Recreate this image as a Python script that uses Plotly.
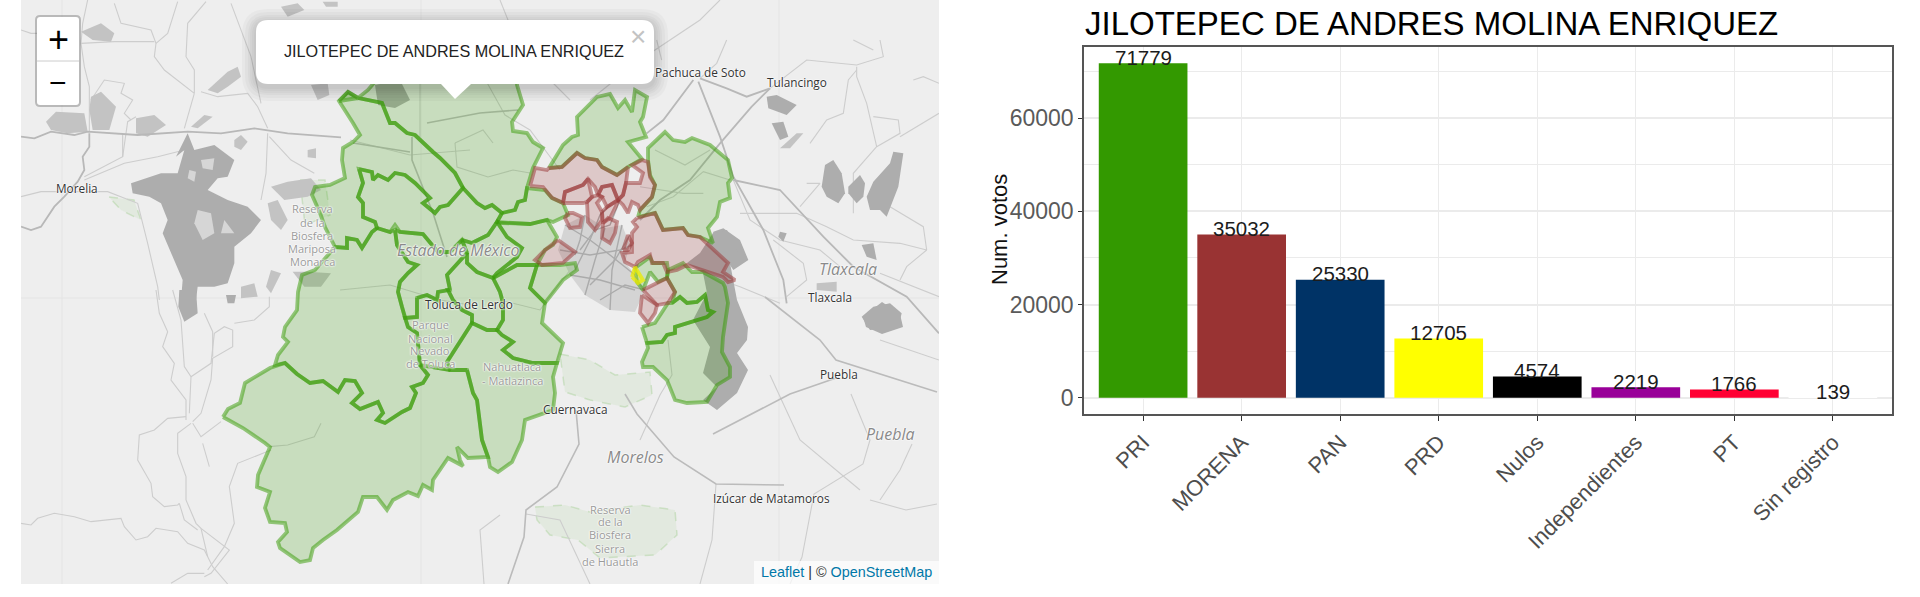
import plotly.graph_objects as go

# ---------- bar data ----------
parties = ["PRI", "MORENA", "PAN", "PRD", "Nulos", "Independientes", "PT", "Sin registro"]
votes = [71779, 35032, 25330, 12705, 4574, 2219, 1766, 139]
party_colors = ["#339900", "#993333", "#003366", "#FFFF00", "#000000", "#990099", "#FF0033", "#FFFFFF"]
chart_title = "JILOTEPEC DE ANDRES MOLINA ENRIQUEZ"
y_title = "Num. votos"

# ---------- map data (map-plane coordinates) ----------
north = [(339,101),(348,92),(358,98),(368,90),(385,70),(517,70),(517,85),(523,105),(512,122),(513,131),(527,133),(533,142),(543,148),(533,168),(527,188),(525,200),(518,202),(515,210),(502,213),(492,205),(485,208),(477,203),(463,188),(455,173),(440,158),(433,152),(415,135),(407,133),(395,123),(390,123),(382,103),(358,98)]
northwest = [(358,98),(382,103),(390,123),(395,123),(407,133),(415,135),(433,152),(440,158),(455,173),(463,188),(448,205),(440,207),(435,213),(423,203),(430,198),(415,183),(405,175),(395,173),(388,180),(378,175),(373,180),(372,172),(359,169),(363,183),(358,197),(363,203),(363,217),(375,222),(377,228),(372,232),(362,248),(357,240),(347,238),(347,248),(335,247),(325,227),(320,213),(312,195),(315,187),(330,185),(345,178),(342,160),(343,148),(353,142),(360,135),(353,123),(339,101),(348,92),(358,98)]
inner_north = [(359,169),(372,172),(373,180),(378,175),(388,180),(395,173),(405,175),(415,183),(430,198),(423,203),(435,213),(440,207),(448,205),(463,188),(477,203),(485,208),(492,205),(502,213),(497,222),(488,235),(472,243),(462,240),(450,252),(438,252),(423,234),(400,232),(395,225),(390,232),(377,228),(375,222),(363,217),(363,203),(358,197),(363,183),(359,169)]
center_east = [(502,213),(515,210),(518,202),(525,200),(527,188),(545,190),(552,198),(563,203),(568,215),(553,222),(547,220),(530,224),(502,223),(497,222),(502,213)]
center_low = [(497,222),(530,224),(547,220),(557,237),(553,245),(545,250),(537,265),(517,265),(493,278),(497,273),(517,257),(522,248),(507,237),(497,222)]
west = [(377,228),(372,232),(362,248),(357,240),(347,238),(347,248),(335,247),(315,270),(302,275),(298,292),(297,310),(285,327),(283,337),(288,342),(278,355),(275,365),(285,363),(297,374),(310,383),(323,381),(338,392),(345,380),(355,381),(362,393),(352,403),(360,409),(378,402),(383,413),(377,420),(385,423),(402,412),(410,408),(416,393),(412,387),(423,383),(428,375),(420,365),(418,343),(417,333),(408,327),(405,318),(402,307),(398,292),(400,282),(408,273),(417,265),(408,262),(397,245),(395,230),(390,232),(377,228)]
southwest = [(223,417),(228,409),(240,403),(245,383),(270,368),(285,363),(297,374),(310,383),(323,381),(338,392),(345,380),(355,381),(362,393),(352,403),(360,409),(378,402),(383,413),(377,420),(385,423),(402,412),(410,408),(416,393),(412,387),(423,383),(428,375),(420,365),(450,370),(467,370),(473,393),(477,400),(482,440),(488,457),(468,458),(457,447),(460,460),(463,466),(448,458),(433,480),(432,490),(423,485),(418,496),(408,492),(393,500),(387,510),(377,497),(363,497),(358,512),(337,530),(323,540),(313,548),(310,560),(300,562),(280,548),(278,542),(287,532),(285,523),(270,522),(265,508),(270,492),(257,487),(258,475),(270,447),(265,443),(243,428),(223,417)]
south = [(467,370),(473,393),(477,400),(482,440),(488,457),(490,467),(498,472),(512,462),(522,440),(525,420),(553,410),(555,393),(553,377),(557,363),(533,363),(513,358),(503,350),(513,342),(502,335),(497,330),(487,330),(472,323),(447,362),(450,370),(467,370)]
zinacantepec = [(395,230),(400,232),(423,234),(438,252),(450,252),(462,240),(467,253),(447,275),(450,290),(438,292),(437,300),(427,295),(417,298),(417,317),(405,318),(402,307),(398,292),(400,282),(408,273),(417,265),(408,262),(397,245),(395,230)]
lerma = [(467,253),(462,240),(472,243),(488,235),(497,222),(507,237),(522,248),(517,257),(497,273),(493,278),(477,272),(467,263),(467,253)]
toluca = [(450,290),(447,275),(467,253),(467,263),(477,272),(493,278),(500,292),(503,303),(503,320),(497,330),(487,330),(472,323),(472,315),(462,310),(453,300),(448,290)]
tenango = [(417,298),(427,295),(437,300),(438,292),(448,290),(453,300),(462,310),(472,315),(472,323),(447,362),(450,370),(420,365),(418,343),(417,333),(408,327),(405,318),(417,317),(417,298)]
huixquilucan = [(493,278),(517,265),(537,265),(530,288),(545,303),(542,323),(563,343),(557,363),(533,363),(513,358),(503,350),(513,342),(502,335),(497,330),(503,320),(503,303),(500,292),(493,278)]
ring_light = [(537,265),(560,265),(575,263),(577,270),(563,280),(555,290),(545,303),(530,288),(537,265)]
northeast_a = [(549,168),(563,145),(572,137),(578,135),(577,117),(597,97),(610,94),(618,108),(625,100),(632,112),(635,90),(647,97),(643,117),(640,122),(646,137),(628,142),(642,159),(628,167),(617,175),(602,167),(597,160),(585,158),(577,153),(562,167),(549,168)]
northeast_b = [(638,217),(640,210),(652,197),(655,185),(650,175),(648,160),(648,148),(657,140),(665,132),(673,140),(685,142),(692,138),(710,145),(728,160),(732,178),(728,183),(730,198),(720,202),(717,217),(708,228),(713,243),(700,237),(688,235),(683,228),(663,230),(655,213),(638,217)]
southeast_main = [(668,270),(683,263),(692,272),(703,272),(723,283),(725,287),(728,303),(723,337),(722,352),(730,367),(730,377),(717,385),(707,402),(687,403),(675,400),(667,380),(653,367),(643,367),(642,362),(648,348),(647,343),(662,342),(667,335),(675,333),(675,327),(687,323),(707,317),(713,312),(708,310),(705,295),(697,302),(687,303),(680,297),(672,303),(675,292),(667,278),(668,270)]
southeast_thin = [(642,327),(655,323),(668,303),(672,303),(680,297),(687,303),(697,302),(705,295),(708,310),(713,312),(707,317),(687,323),(675,327),(675,333),(667,335),(662,342),(647,343),(642,327)]
small_green = [(635,268),(650,257),(653,263),(667,263),(668,270),(667,278),(658,282),(650,272),(645,285),(643,290),(637,282),(635,268)]
green_districts = [north, northwest, inner_north, center_east, center_low, west, southwest, south, zinacantepec, lerma, toluca, tenango, huixquilucan, ring_light, northeast_a, northeast_b, southeast_main, southeast_thin, small_green]

red_north = [(530,186),(535,168),(547,170),(549,168),(562,167),(577,153),(585,158),(597,160),(602,167),(617,175),(628,167),(626,183),(623,195),(618,200),(612,185),(602,187),(598,195),(595,187),(588,179),(583,185),(565,192),(563,203),(552,198),(543,187),(530,186)]
red_a = [(563,203),(583,203),(587,202),(592,197),(588,179),(583,185),(565,192),(563,203)]
red_b = [(568,213),(573,213),(582,217),(580,227),(570,228),(565,218),(568,213)]
red_c = [(587,202),(592,197),(598,195),(602,197),(597,203),(602,212),(602,220),(595,230),(588,222),(587,202)]
red_d = [(598,195),(602,187),(612,185),(618,200),(607,207),(602,197),(598,195)]
red_e = [(602,212),(607,207),(618,200),(616,206),(610,218),(603,223),(602,212)]
red_f = [(603,223),(608,218),(617,222),(615,233),(610,243),(602,238),(603,223)]
red_g = [(618,200),(623,195),(626,183),(640,183),(643,173),(632,165),(642,160),(648,162),(650,177),(655,185),(652,197),(640,210),(638,205),(632,202),(628,213),(623,205),(618,200)]
red_triangle = [(558,240),(575,252),(563,263),(542,265),(535,260),(545,250),(558,240)]
red_sliver = [(623,250),(628,235),(632,243),(628,250),(623,250)]
red_east = [(637,218),(655,213),(663,230),(683,228),(688,235),(700,237),(728,263),(723,272),(735,280),(728,282),(723,277),(707,272),(687,265),(677,270),(667,272),(663,263),(652,263),(650,255),(638,262),(635,267),(625,262),(622,253),(632,252),(632,233),(637,227),(633,222),(637,218)]
red_low_a = [(642,295),(657,305),(655,313),(648,323),(640,313),(642,295)]
red_low_b = [(643,290),(667,278),(675,292),(668,303),(657,305),(643,290)]
red_districts = [red_north, red_a, red_b, red_c, red_d, red_e, red_f, red_g, red_triangle, red_sliver, red_east, red_low_a, red_low_b]

yellow_district = [(632,277),(635,267),(643,280),(638,283),(632,277)]

LEFT = (21, 0)
RIGHT = (640, 40)
LOW = (21, 290)

city_dark = [
    (LEFT, [[(500,400),(520,450),(580,435),(640,480),(620,530),(590,535),(560,570),(620,600),(680,620),(720,660),(690,700),(640,740),(640,790),(620,850),(580,860),(530,860),(525,900),(480,900),(485,840),(450,760),(425,700),(440,660),(420,610),(385,590),(335,580),(330,550),(420,520),(470,520),(490,450),(465,470)]]),
    (LOW, [[(475,0),(525,0),(530,70),(490,95),(472,50)], [(615,15),(645,15),(640,40),(620,40)]]),
    (RIGHT, [[(380,170),(410,165),(470,195),(440,225),(385,205)], [(395,250),(430,245),(445,290),(420,300)],
             [(545,440),(555,375),(580,360),(605,400),(615,460),(595,490),(560,470)], [(625,440),(660,405),(675,430),(670,470),(650,490),(625,460)],
             [(680,470),(700,425),(750,370),(760,335),(790,340),(775,440),(740,530),(720,510),(690,510)],
             [(220,575),(250,565),(300,600),(325,660),(280,690),(260,660),(215,600)],
             [(665,830),(700,800),(750,790),(785,820),(775,860),(690,870)], [(665,615),(700,610),(710,660),(680,650)], [(420,575),(440,580),(430,605),(415,590)]]),
]
city_holes = [
    (LEFT, [[(530,630),(570,640),(580,700),(545,720),(520,670)], [(505,510),(525,515),(520,545),(500,535)], [(540,480),(580,475),(575,510),(545,505)], [(640,700),(600,700),(610,660)]]),
]
city_light = [
    (LEFT, [[(75,365),(105,335),(190,340),(200,395),(140,400),(90,390)], [(210,290),(240,275),(285,320),(265,390),(215,390),(205,330)],
            [(180,95),(240,70),(280,100),(270,125),(215,120)], [(345,355),(400,345),(435,375),(380,410),(345,400)],
            [(510,380),(550,345),(575,350),(530,385)], [(640,420),(660,405),(680,425),(660,450),(640,440)],
            [(860,450),(885,445),(885,475),(860,472)], [(560,270),(620,215),(650,200),(660,230),(620,260),(590,280)],
            [(750,560),(800,545),(870,535),(900,570),(860,590),(790,600)], [(740,610),(770,600),(800,660),(780,690),(750,660)],
            [(780,20),(830,10),(850,30),(800,50)], [(905,5),(950,5),(950,20),(915,20)], [(870,255),(920,250),(925,285),(890,300)],
            [(815,815),(860,815),(930,820),(900,860),(850,860)], [(750,810),(780,820),(750,880),(735,860)], [(660,860),(700,850),(710,890),(660,895)]]),
    (RIGHT, [[(420,325),(470,280),(490,280),(450,325)], [(530,730),(590,725),(590,755),(530,750)]]),
]
puebla_blob = [(863,317),(882,302),(900,314),(903,327),(882,334),(866,327)]
volcano_blob = [(713,233),(727,230),(740,257),(730,263),(737,300),(748,327),(747,340),(737,353),(748,370),(737,393),(717,410),(703,400),(717,387),(703,373),(710,347),(693,320),(707,293),(703,273),(687,263),(700,253)]
hill_shade = [(375,85),(400,80),(410,100),(395,108),(378,105)]
metro_blob = [(565,225),(585,215),(605,228),(622,225),(630,245),(625,262),(635,275),(645,290),(635,312),(610,310),(585,295),(570,275),(558,250)]
protected_areas = [
    [(535,507),(565,505),(590,512),(640,505),(675,510),(677,535),(655,555),(600,558),(578,540),(550,535),(537,520)],
    [(560,354),(590,360),(615,375),(650,372),(652,395),(625,407),(590,400),(565,392)],
    [(109,197),(134,200),(141,220),(121,210)],
    [(300,180),(325,180),(330,215),(305,225)],
]
roads_major = [
    (LEFT, [[(0,410),(40,415),(90,395),(160,405),(200,395),(350,405),(500,395),(600,400),(700,385),(800,400),(960,412)],
            [(205,400),(205,440),(185,470),(190,510),(170,545),(130,590),(100,620),(60,680),(30,690),(0,680)]]),
    (RIGHT, [[(175,125),(240,290),(280,410),(370,570),(430,720),(440,790)], [(0,540),(60,480),(150,420),(240,310),(335,200),(390,145)],
             [(280,420),(420,450),(550,590),(640,680),(800,770),(897,880)], [(180,115),(260,145),(320,170),(390,145)], [(160,120),(70,240),(20,280)]]),
]
roads_major_plain = [
    [(765,297),(820,340),(836,360),(937,392)], [(713,434),(790,394),(839,377)], [(576,410),(579,444),(557,487),(526,510),(524,537),(508,584)],
    [(625,394),(637,414),(674,457),(716,484),(784,485)], [(412,137),(412,160),(433,213),(447,257)], [(353,143),(410,152)], [(427,123),(480,113),(518,110)],
]
roads_minor = [
    (LEFT, [[(200,0),(185,70),(180,130),(190,200),(205,260),(205,395)], [(280,10),(300,70),(390,90),(405,130),(400,170),(430,210),(520,280),(520,210),(495,170),(500,70),(555,5)],
            [(470,5),(440,100),(405,130)], [(0,90),(30,100),(60,100)], [(180,130),(280,125),(400,125)], [(520,280),(500,350),(490,385)],
            [(540,275),(590,290),(680,280),(710,320),(740,385)], [(630,10),(690,170),(720,310)], [(210,300),(250,240),(310,250),(300,280),(335,300),(310,340),(330,360)],
            [(305,470),(320,365),(345,350)], [(305,400),(305,470),(190,530)], [(190,540),(310,490),(410,470),(490,450)],
            [(0,590),(60,575),(130,575),(260,575),(350,610),(380,730),(410,860),(415,900)], [(740,400),(735,520),(720,600)], [(745,410),(810,480),(880,520)]]),
    (LOW, [[(405,0),(415,70),(440,125),(425,170),(460,220),(450,270),(495,330),(495,390)], [(455,0),(480,90),(490,230),(510,260),(505,370)],
           [(510,260),(570,220),(580,130),(610,110),(635,120),(635,170),(575,205),(570,270),(540,370),(515,395)], [(550,70),(575,125),(575,200)],
           [(640,100),(700,90),(745,50),(745,20)], [(495,380),(440,385),(400,420),(355,435),(350,510),(390,580),(395,620),(430,650),(470,645),(475,640)],
           [(510,400),(470,430),(470,490),(495,560),(495,630),(525,700),(540,715),(625,780),(570,850),(550,860)], [(475,640),(490,690),(530,720)],
           [(515,400),(540,440),(600,395)], [(545,460),(565,530)], [(750,480),(650,520),(625,590),(640,700),(610,770),(560,840)],
           [(0,700),(30,705),(50,685),(100,670),(160,680),(210,695),(300,685),(310,710),(345,750),(380,740),(405,715),(470,725),(500,760),(550,780),(575,830),(620,882)],
           [(540,715),(560,800)], [(450,880),(500,850),(550,850)], [(745,470),(800,465),(880,440),(900,400)]]),
    (RIGHT, [[(390,145),(500,60),(650,75),(730,50),(720,0)], [(650,80),(650,110),(680,190),(710,320),(640,400),(640,520)], [(510,310),(560,240),(610,220),(625,120),(650,90)],
             [(700,230),(775,240),(780,280),(710,320)], [(780,290),(897,220)], [(820,120),(850,110),(897,130)],
             [(300,520),(470,520),(560,560),(640,600),(780,610),(860,630),(800,680),(780,720)], [(440,770),(500,720),(490,670),(400,600)],
             [(280,420),(330,540),(420,600),(540,630),(600,680)], [(500,430),(540,430),(480,500)], [(720,700),(897,770)], [(750,500),(850,560),(860,630)],
             [(700,30),(640,0)], [(50,0),(65,60)], [(260,0),(230,70),(180,115)], [(420,790),(300,740),(270,730)],
             [(20,500),(100,470),(190,395),(270,420)], [(45,330),(135,375),(210,330)], [(0,440),(130,460),(190,460)]]),
]
roads_minor_plain = [
    [(851,394),(870,440),(863,464),(814,494),(802,557),(790,584)], [(912,444),(900,470),(880,500)], [(937,504),(906,510),(870,500)],
    [(500,515),(480,530),(484,584)], [(526,514),(560,520),(590,584)], [(716,484),(712,540),(700,584)], [(640,440),(660,395),(672,375),(668,340)],
    [(455,143),(483,130),(493,143)], [(455,143),(457,167),(488,177),(513,170),(530,173)], [(420,83),(420,137)],
    [(560,170),(530,130),(505,115),(480,70)], [(350,140),(410,155),(470,150)], [(340,290),(390,285),(440,300),(470,305)], [(500,300),(540,310),(570,270)],
    [(590,100),(640,60),(700,20),(720,0)], [(500,0),(520,50),(570,100)], [(880,340),(939,360)], [(770,375),(800,440),(860,490)],
]
metro_streets = [
    [(565,225),(590,240),(610,255),(635,275)], [(575,270),(590,240),(600,215),(610,205)], [(560,250),(590,255),(620,250),(632,245)],
    [(585,295),(595,260),(605,228)], [(610,310),(612,270),(622,225)], [(570,275),(600,280),(635,290)], [(585,215),(580,240),(575,255)],
    [(600,300),(625,285),(645,290)], [(620,200),(610,225),(595,230),(580,250)], [(630,235),(615,260),(590,285)],
]
tile_seams = [[(62,0),(62,584)], [(421,0),(421,584)], [(21,298),(939,298)], [(779,0),(779,584)]]
place_labels = [
    ("Pachuca de Soto", 700, 72, 11.8, "#333333", "normal"), ("Tulancingo", 797, 82, 11.8, "#333333", "normal"),
    ("Morelia", 77, 188, 11.8, "#333333", "normal"), ("Tlaxcala", 848, 269, 16, "#8a8a8a", "italic"),
    ("Tlaxcala", 830, 297, 11.8, "#333333", "normal"), ("Puebla", 839, 374, 11.8, "#333333", "normal"),
    ("Puebla", 890, 434, 16, "#8a8a8a", "italic"), ("Morelos", 635, 457, 16, "#8a8a8a", "italic"),
    ("Izúcar de Matamoros", 771, 498, 11.8, "#333333", "normal"), ("Cuernavaca", 575, 409, 11.8, "#333333", "normal"),
    ("Toluca de Lerdo", 469, 304, 11.8, "#333333", "normal"), ("Estado de México", 458, 250, 16, "#8a8a8a", "italic"),
    ("Reserva", 312, 208, 11, "#9a9a9a", "normal"), ("de la", 312, 222, 11, "#9a9a9a", "normal"),
    ("Biosfera", 312, 235, 11, "#9a9a9a", "normal"), ("Mariposa", 312, 248, 11, "#9a9a9a", "normal"),
    ("Monarca", 312, 261, 11, "#9a9a9a", "normal"), ("Parque", 430, 324, 11, "#9a9a9a", "normal"),
    ("Nacional", 430, 338, 11, "#9a9a9a", "normal"), ("Nevado", 430, 350, 11, "#9a9a9a", "normal"),
    ("de Toluca", 430, 363, 11, "#9a9a9a", "normal"), ("Nahuatlaca", 512, 366, 11, "#9a9a9a", "normal"),
    ("- Matlazinca", 512, 380, 11, "#9a9a9a", "normal"), ("Reserva", 610, 509, 11, "#9a9a9a", "normal"),
    ("de la", 610, 521, 11, "#9a9a9a", "normal"), ("Biosfera", 610, 534, 11, "#9a9a9a", "normal"),
    ("Sierra", 610, 548, 11, "#9a9a9a", "normal"), ("de Huautla", 610, 561, 11, "#9a9a9a", "normal"),
]

fig = go.Figure()
MAP = dict(xaxis="x2", yaxis="y2", hoverinfo="skip", showlegend=False)

def from_crop(origin, pts):
    return [(origin[0] + p[0] / 3, origin[1] + p[1] / 3) for p in pts]

def poly(points, fill, line, width=0, dash=None):
    xs = [p[0] for p in points] + [points[0][0]]
    ys = [p[1] for p in points] + [points[0][1]]
    fig.add_trace(go.Scatter(x=xs, y=ys, mode="lines", fill="toself", fillcolor=fill,
                             line=dict(color=line, width=width, dash=dash), **MAP))

def road(points, color, width, shape="linear"):
    fig.add_trace(go.Scatter(x=[p[0] for p in points], y=[p[1] for p in points], mode="lines",
                             line=dict(color=color, width=width, shape=shape, smoothing=0.6), **MAP))

CLEAR = "rgba(0,0,0,0)"
for s in tile_seams:
    road(s, "#E4E4E4", 1)
for a in protected_areas:
    poly(a, "rgba(170,210,150,0.16)", "rgba(150,200,130,0.35)", 1.5, "dash")
for origin, paths in roads_minor:
    for r in paths:
        road(from_crop(origin, r), "#CDCDCD", 1.1)
for r in roads_minor_plain:
    road(r, "#CDCDCD", 1.1)
for origin, blobs in city_light:
    for b in blobs:
        poly(from_crop(origin, b), "#C3C3C3", CLEAR)
for origin, blobs in city_dark:
    for b in blobs:
        poly(from_crop(origin, b), "#ADADAD", CLEAR)
for origin, blobs in city_holes:
    for b in blobs:
        poly(from_crop(origin, b), "#D6D6D6", CLEAR)
for b in (puebla_blob, volcano_blob, hill_shade):
    poly(b, "#ADADAD", CLEAR)
poly(metro_blob, "#D4D4D4", CLEAR)
for origin, paths in roads_major:
    for r in paths:
        road(from_crop(origin, r), "#B8B8B8", 1.8)
for r in roads_major_plain:
    road(r, "#BBBBBB", 1.6)
for r in metro_streets:
    road(r, "#ABABAB", 1.4)
for d in green_districts:
    poly(d, "rgba(51,153,0,0.2)", "rgba(51,153,0,0.5)", 3.8)
for d in red_districts:
    poly(d, "rgba(153,51,51,0.2)", "rgba(153,51,51,0.5)", 3.8)
poly(yellow_district, "rgba(255,255,0,0.2)", "rgba(235,235,0,0.75)", 3.8)

# bar chart
fig.add_trace(go.Bar(x=parties, y=votes, marker=dict(color=party_colors, line=dict(width=0)),
                     width=0.9, showlegend=False, hoverinfo="skip"))

annotations = []
for cat, v in zip(parties, votes):
    annotations.append(dict(x=cat, y=v, xref="x", yref="y", text=str(v), showarrow=False, yshift=6,
                            font=dict(family="Liberation Sans", size=20.5, color="#1c1c1c")))
annotations.append(dict(x=1083/1920, y=1 - 24/597, xref="paper", yref="paper", yanchor="middle", xanchor="left",
                        showarrow=False, text=chart_title, font=dict(family="Liberation Sans", size=33, color="#000000")))
annotations.append(dict(x=1000/1920, y=1 - 230/597, xref="paper", yref="paper", showarrow=False, textangle=-90,
                        text=y_title, font=dict(family="Liberation Sans", size=22, color="#111111")))
HALO = "0 0 2px #ffffff, 0 0 2px #ffffff, 0 0 2px #ffffff"
for text, x, y, size, color, style in place_labels:
    annotations.append(dict(x=x, y=y, xref="x2", yref="y2", text=text, showarrow=False,
                            font=dict(family="Open Sans", size=size, color=color, style=style, shadow=HALO)))

# popup, zoom control and credit as map furniture
shapes = []
def rounded(x0, y0, x1, y1, r):
    return (f"M{x0+r},{y0} L{x1-r},{y0} Q{x1},{y0} {x1},{y0+r} L{x1},{y1-r} Q{x1},{y1} {x1-r},{y1} "
            f"L{x0+r},{y1} Q{x0},{y1} {x0},{y1-r} L{x0},{y0+r} Q{x0},{y0} {x0+r},{y0} Z")
m = dict(xref="x2", yref="y2", type="path")
POPUP = (256, 20, 654, 84)
for grow in (14, 11, 8, 6, 4, 2):
    shapes.append(dict(path=rounded(POPUP[0]-grow, POPUP[1]-grow+3, POPUP[2]+grow, POPUP[3]+grow+3, 12+grow), fillcolor="rgba(0,0,0,0.028)", line=dict(width=0), **m))
shapes.append(dict(path="M441,84 L455,99 L471,84 Z", fillcolor="#ffffff", line=dict(width=0), **m))
shapes.append(dict(path=rounded(*POPUP, 12), fillcolor="#ffffff", line=dict(width=0), **m))
shapes.append(dict(path=rounded(35, 15, 81, 107, 5), fillcolor="rgba(0,0,0,0.22)", line=dict(width=0), **m))
shapes.append(dict(path=rounded(37, 17, 79, 105, 3), fillcolor="#ffffff", line=dict(width=0), **m))
shapes.append(dict(path="M37,61 L79,61", line=dict(color="#cccccc", width=1), **m))
shapes.append(dict(path="M754,561 L939,561 L939,584 L754,584 Z", fillcolor="rgba(255,255,255,0.7)", line=dict(width=0), **m))

annotations += [
    dict(x=454, y=51, xref="x2", yref="y2", text=chart_title, showarrow=False, font=dict(family="Liberation Sans", size=16.2, color="#222222")),
    dict(x=638, y=36, xref="x2", yref="y2", text="×", showarrow=False, font=dict(family="Liberation Sans", size=28, color="#c3c3c3")),
    dict(x=58, y=39, xref="x2", yref="y2", text="+", showarrow=False, font=dict(family="Liberation Sans", size=36, color="#000000")),
    dict(x=58, y=82, xref="x2", yref="y2", text="−", showarrow=False, font=dict(family="Liberation Sans", size=30, color="#000000")),
    dict(x=934, y=572, xref="x2", yref="y2", xanchor="right", showarrow=False,
         text='<span style="color:#0078A8">Leaflet</span> | © <span style="color:#0078A8">OpenStreetMap</span>',
         font=dict(family="Liberation Sans", size=14.4, color="#333333")),
]

fig.update_layout(
    width=1920, height=597, margin=dict(l=0, r=0, t=0, b=0), paper_bgcolor="#ffffff", plot_bgcolor="rgba(0,0,0,0)",
    bargap=0.1, showlegend=False, annotations=annotations, shapes=shapes,
    xaxis=dict(domain=[1084/1920, 1892/1920], anchor="y", type="category", categoryorder="array", categoryarray=parties,
               range=[-0.6, 7.6], showgrid=True, gridcolor="#EBEBEB", gridwidth=1.2, showline=True, mirror=True,
               linecolor="#555555", linewidth=1.6, ticks="outside", ticklen=5, tickcolor="#333333", tickwidth=1.2,
               tickangle=-45, tickfont=dict(family="Liberation Sans", size=22, color="#4D4D4D"), zeroline=False),
    yaxis=dict(domain=[1-414/597, 1-47/597], anchor="x", range=[-3500, 75260], tickvals=[0, 20000, 40000, 60000],
               ticktext=["0", "20000", "40000", "60000"], showgrid=True, gridcolor="#EBEBEB", gridwidth=1.6,
               minor=dict(tickvals=[10000, 30000, 50000, 70000], showgrid=True, gridcolor="#EBEBEB", gridwidth=1.2, ticks=""),
               showline=True, mirror=True, linecolor="#555555", linewidth=1.6, ticks="outside", ticklen=4,
               tickcolor="#333333", tickwidth=1.2, tickfont=dict(family="Liberation Sans", size=23, color="#5A5A5A"), zeroline=False),
    xaxis2=dict(domain=[21/1920, 939/1920], anchor="y2", range=[21, 939], visible=False, showgrid=False, zeroline=False),
    yaxis2=dict(domain=[1-584/597, 1], anchor="x2", range=[584, 0], visible=False, showgrid=False, zeroline=False),
)
fig.add_shape(dict(type="rect", xref="x2", yref="y2", x0=21, x1=939, y0=0, y1=584, fillcolor="#EEEEEE", line=dict(width=0), layer="below"))

fig.write_html("out.html", config={"displayModeBar": False}, post_script="document.body.style.margin='0';")
